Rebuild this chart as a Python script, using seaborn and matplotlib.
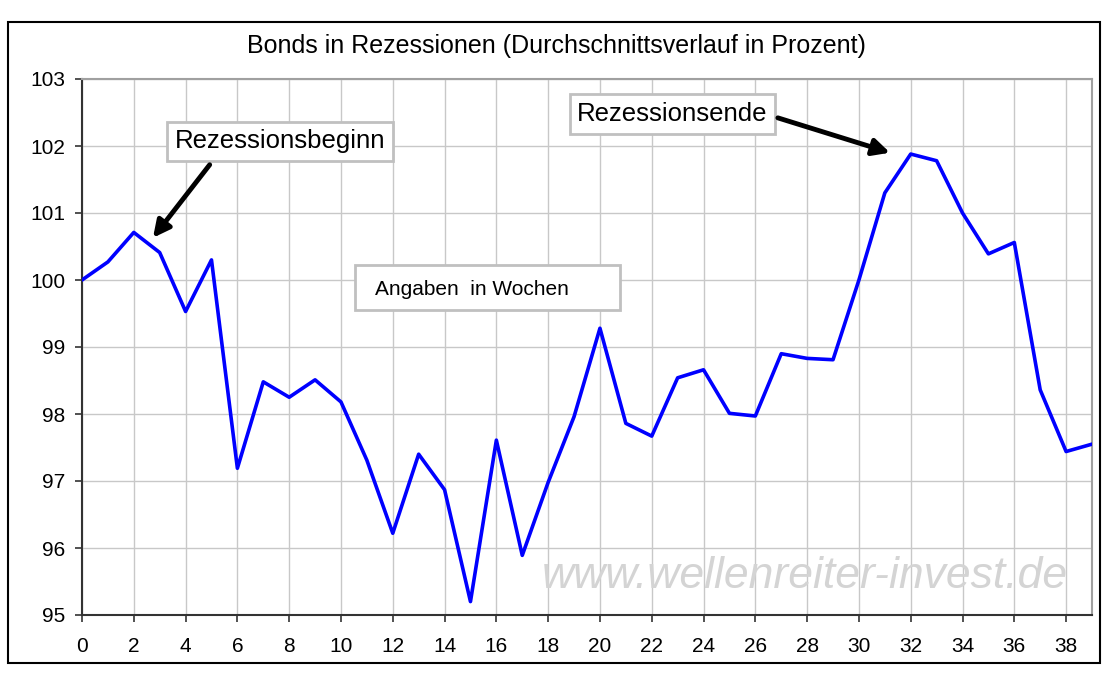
import numpy as np
import pandas as pd
import seaborn as sns
import matplotlib
matplotlib.use('Agg')
import matplotlib.pyplot as plt
from matplotlib.patches import Rectangle

# weekly average course of bonds during recessions (percent)
weeks = list(range(40))
values = [100.00, 100.27, 100.71, 100.41, 99.53, 100.30, 97.19, 98.48, 98.25, 98.51,
          98.18, 97.31, 96.22, 97.40, 96.87, 95.20, 97.61, 95.89, 96.98, 97.96,
          99.28, 97.86, 97.67, 98.54, 98.66, 98.01, 97.97, 98.90, 98.83, 98.81,
          100.00, 101.30, 101.88, 101.78, 101.00, 100.39, 100.56, 98.36, 97.44, 97.55]
x_ticks = list(range(0, 39, 2))
y_ticks = list(range(95, 104))

df = pd.DataFrame({'Woche': weeks, 'Wert': values})

sns.set_style('white')
plt.rcParams['font.family'] = ['Liberation Sans', 'DejaVu Sans']
plt.rcParams['text.color'] = 'black'

fig = plt.figure(figsize=(11.05, 6.75), dpi=100)
ax = fig.add_axes([82 / 1105, 1 - 615 / 675, (1092 - 82) / 1105, (615 - 79) / 675])

sns.lineplot(data=df, x='Woche', y='Wert', color='#0000ff', linewidth=2.6, ax=ax, zorder=3)

ax.set_xlim(0, 39)
ax.set_ylim(95, 103)
ax.set_xticks(x_ticks)
ax.set_yticks(y_ticks)
ax.set_xticklabels([str(t) for t in x_ticks], fontsize=15)
ax.set_yticklabels([str(t) for t in y_ticks], fontsize=15)
ax.set_xlabel('')
ax.set_ylabel('')
ax.grid(True, color='#c8c8c8', linewidth=1.0)
ax.set_axisbelow(True)
ax.tick_params(axis='both', direction='out', length=5, width=1.2, color='#333333',
               labelcolor='black', bottom=True, left=True)
ax.tick_params(axis='x', pad=11)
ax.tick_params(axis='y', pad=7)
for side in ['top', 'right']:
    ax.spines[side].set_color('#a0a0a0')
    ax.spines[side].set_linewidth(1.5)
for side in ['left', 'bottom']:
    ax.spines[side].set_color('#333333')
    ax.spines[side].set_linewidth(1.5)

# outer chart frame
fig.patches.append(Rectangle((8 / 1105, 1 - 663 / 675), (1100 - 8) / 1105, (663 - 22) / 675,
                             transform=fig.transFigure, fill=False, edgecolor='black', linewidth=1.5))

fig.text(556 / 1105, 1 - 46 / 675, 'Bonds in Rezessionen (Durchschnittsverlauf in Prozent)',
         ha='center', va='center', fontsize=18)

box = dict(boxstyle='square,pad=0.3', facecolor='white', edgecolor='#c0c0c0', linewidth=2)
arrow = dict(arrowstyle='-|>,head_length=1.0,head_width=0.5', color='black', linewidth=3.5,
             shrinkA=0, shrinkB=0)

ax.text(7.64, 102.07, 'Rezessionsbeginn', fontsize=18.5, ha='center', va='center', bbox=box, zorder=5)
ax.annotate('', xy=(2.74, 100.63), xytext=(4.93, 101.72), arrowprops=arrow, zorder=5)

ax.text(22.8, 102.48, 'Rezessionsende', fontsize=18.5, ha='center', va='center', bbox=box, zorder=5)
ax.annotate('', xy=(31.2, 101.90), xytext=(26.87, 102.42), arrowprops=arrow, zorder=5)

ax.add_patch(Rectangle((10.54, 99.55), 10.23, 0.67, facecolor='white', edgecolor='#c0c0c0',
                       linewidth=2, zorder=4))
ax.text(15.06, 99.86, 'Angaben  in Wochen', fontsize=15, ha='center', va='center', zorder=5)

ax.text(27.9, 95.58, 'www.wellenreiter-invest.de', fontsize=32, style='italic',
        color='#d4d4d4', ha='center', va='center', zorder=1)

fig.savefig('out.png', dpi=100)
